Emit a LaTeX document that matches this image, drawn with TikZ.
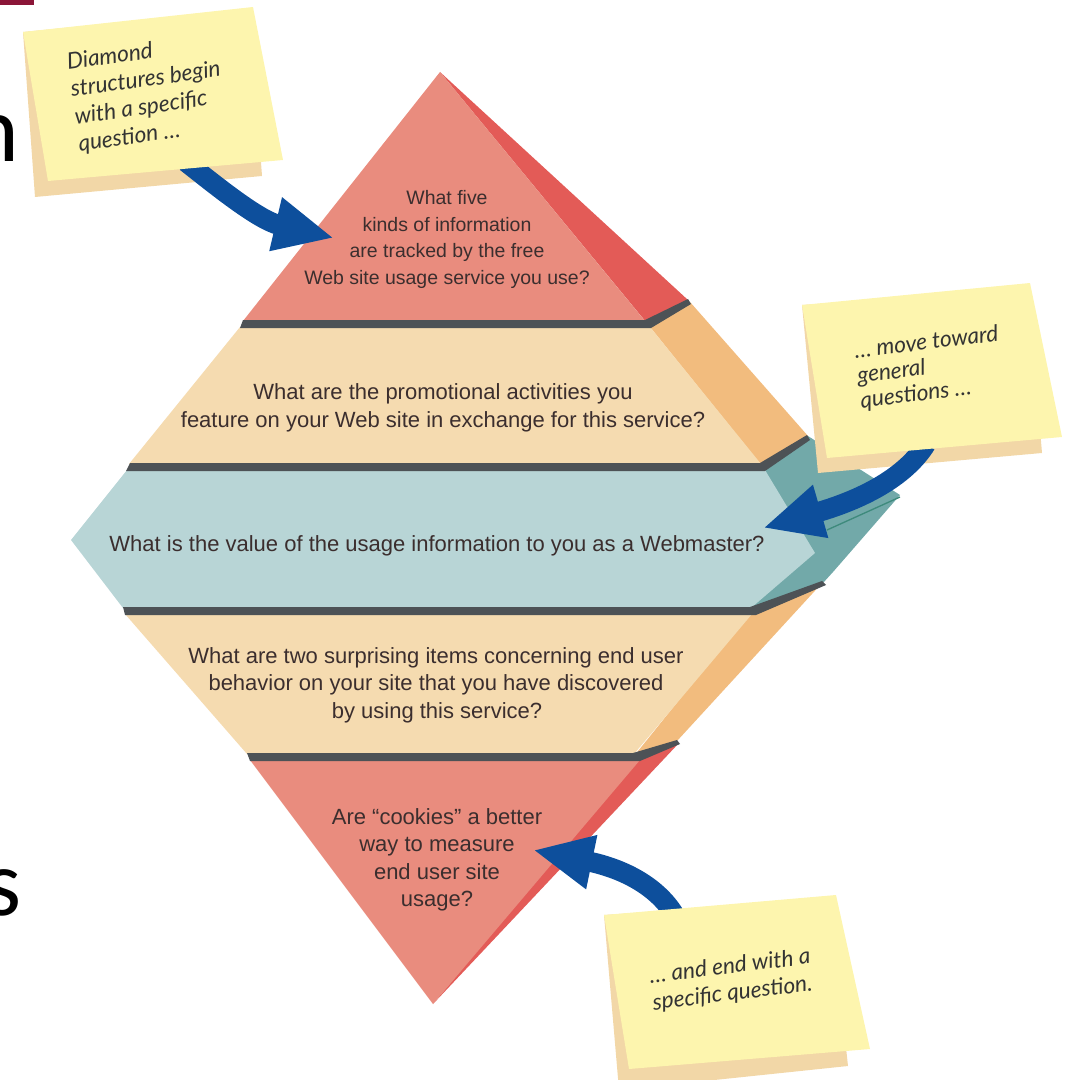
\documentclass[tikz,border=0pt]{standalone}
\usepackage{fontspec}
\setmainfont{Liberation Sans}
\newfontfamily\handfont{Lato}
\newfontfamily\slidefont{Carlito}
\usetikzlibrary{arrows.meta}
\definecolor{salmon}{HTML}{E98C7E}
\definecolor{redside}{HTML}{E35B57}
\definecolor{ledgegray}{HTML}{4D5256}
\definecolor{beige}{HTML}{F5DBB0}
\definecolor{orside}{HTML}{F2BC7E}
\definecolor{lblue}{HTML}{B8D5D6}
\definecolor{tealside}{HTML}{72A9A9}
\definecolor{foldcol}{HTML}{3E8A7C}
\definecolor{noteyellow}{HTML}{FDF5AE}
\definecolor{notetan}{HTML}{F2D7A7}
\definecolor{arrowblue}{HTML}{0D4F9C}
\definecolor{qcol}{HTML}{3B2E2E}
\definecolor{notetext}{HTML}{333333}
\definecolor{maroon}{HTML}{8B1538}
\begin{document}
\begin{tikzpicture}[x=0.75pt,y=-0.75pt,
  qtext/.style={font=\fontsize{16.5}{20}\selectfont, text=qcol, inner sep=0pt, anchor=base},
  qtop/.style={qtext, font=\fontsize{14.6}{18}\selectfont},
  notetxt/.style={text=notetext, inner sep=0pt, anchor=north west, align=left},
  slide/.style={font=\slidefont\fontsize{71}{71}\selectfont, text=black, inner sep=0pt, anchor=base east},
  bluearrow/.style={draw=arrowblue, line width=15pt, -{Triangle[length=45pt,width=38pt]}},
  ledge/.style={fill=ledgegray},
]
\useasboundingbox (0,0) rectangle (1069,1080);
\clip (0,0) rectangle (1069,1080);

% background slide remnants
\fill[maroon] (0,0) rectangle (34,5);
\node[slide] (ln) at (19.5,162) {n};
\node[slide] (ls) at (22,915) {s};

% side faces
\fill[redside] (440,72) -- (688,300) -- (646,322) -- cycle;
\fill[orside] (646,322) -- (690,302) -- (808,436) -- (762,466) -- cycle;
\fill[tealside] (762,468) -- (808,436) -- (900,495) -- (833,572) -- (823,583) -- (750,610) -- cycle;
\fill[orside] (750,612) -- (823,582) -- (677,741) -- (634,756) -- cycle;
\fill[redside] (636,758) -- (679,743) -- (433,1004) -- cycle;

% front faces
\fill[salmon] (440,72) -- (645,321) -- (243,321) -- cycle;
\fill[beige] (240,327) -- (650,327) -- (761,464) -- (129,464) -- cycle;
\fill[lblue] (127,470) -- (765,470) -- (815,553) -- (751,608) -- (123,608) -- (71,540) -- cycle;
\fill[beige] (125,614) -- (752,614) -- (634,754) -- (247,754) -- cycle;
\fill[salmon] (250,760) -- (640,760) -- (433,1004) -- cycle;

% ledges
\fill[ledge] (243,320) -- (645,320) -- (688,299) -- (691,304) -- (651,328) -- (240,328) -- cycle;
\fill[ledge] (130,463) -- (760,463) -- (807,435) -- (810,440) -- (765,471) -- (126,471) -- cycle;
\fill[ledge] (123,607) -- (750,607) -- (822,581) -- (826,585) -- (756,615) -- (125,615) -- cycle;
\fill[ledge] (247,753) -- (633,753) -- (677,740) -- (680,744) -- (640,761) -- (250,761) -- cycle;
\draw[foldcol, line width=1pt] (827,530) -- (900,497);

% question texts
\node[qtop] (q1a) at (447,205) {What five};
\node[qtop] (q1b) at (447,232) {kinds of information};
\node[qtop] (q1c) at (447,258) {are tracked by the free};
\node[qtop] (q1d) at (447,285) {Web site usage service you use?};
\node[qtext] (q2a) at (443,399) {What are the promotional activities you};
\node[qtext] (q2b) at (443,427) {feature on your Web site in exchange for this service?};
\node[qtext] (q3) at (437,551) {What is the value of the usage information to you as a Webmaster?};
\node[qtext] (q4a) at (436,663) {What are two surprising items concerning end user};
\node[qtext] (q4b) at (436,690) {behavior on your site that you have discovered};
\node[qtext] (q4c) at (437,718) {by using this service?};
\node[qtext] (q5a) at (437,824) {Are “cookies” a better};
\node[qtext] (q5b) at (437,851) {way to measure};
\node[qtext] (q5c) at (437,879) {end user site};
\node[qtext] (q5d) at (437,906) {usage?};

% note shadows
\fill[notetan] (23,32) -- (250,10) -- (262,176) -- (35,197) -- cycle;
\fill[notetan] (802,305) -- (1028,290) -- (1042,453) -- (818,473) -- cycle;
\fill[notetan] (604,915) -- (830,900) -- (848,1066) -- (619,1090) -- cycle;

% arrows
\coordinate (a1s) at (186,162);
\coordinate (a1e) at (334,238);
\coordinate (a2s) at (926,444);
\coordinate (a2e) at (763,528);
\coordinate (a3s) at (674,914);
\coordinate (a3e) at (533,850);
\draw[bluearrow] (a1s) .. controls (214,184) and (258,220) .. (a1e);
\draw[bluearrow] (a2s) .. controls (905,478) and (860,500) .. (a2e);
\draw[bluearrow] (a3s) .. controls (655,884) and (620,868) .. (a3e);

% notes
\fill[noteyellow] (23,32) -- (253,7) -- (283,160) -- (48,181) -- cycle;
\fill[noteyellow] (802,305) -- (1030,283) -- (1062,437) -- (827,458) -- cycle;
\fill[noteyellow] (604,915) -- (836,895) -- (870,1049) -- (629,1069) -- cycle;

\node[notetxt, rotate=8, font=\handfont\itshape\fontsize{17}{20.6}\selectfont] (n1) at (65.5,53)
  {Diamond\\structures begin\\with a specific\\question …};
\node[notetxt, rotate=7, font=\handfont\itshape\fontsize{17}{18.8}\selectfont] (n2) at (853,341.5)
  {… move toward\\general\\questions …};
\node[notetxt, rotate=7, font=\handfont\itshape\fontsize{17}{20.2}\selectfont] (n3) at (648,966.5)
  {… and end with a\\specific question.};
\end{tikzpicture}
\end{document}
